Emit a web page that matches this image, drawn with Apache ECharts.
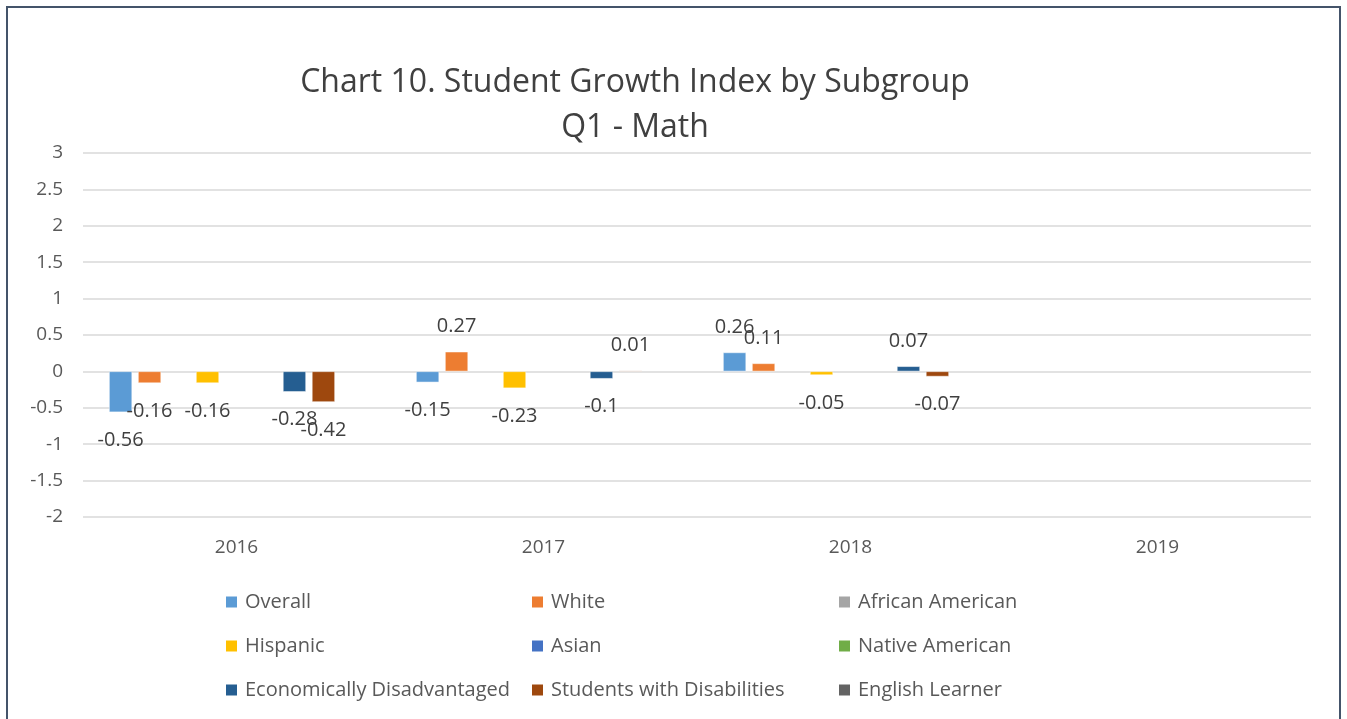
<!DOCTYPE html>
<html>
<head>
<meta charset="utf-8">
<title>Chart 10. Student Growth Index by Subgroup</title>
<script src="https://cdn.jsdelivr.net/npm/echarts@6/dist/echarts.min.js"></script>
<style>
  html, body { margin: 0; padding: 0; background: #fff; overflow: hidden; }
  #chart { position: absolute; left: 0; top: 0; width: 1347px; height: 719px; }
  #frame {
    position: absolute; left: 6px; top: 6px; width: 1331px; height: 740px;
    border: 2px solid #44546a; pointer-events: none;
  }
</style>
</head>
<body>
<div id="chart"></div>
<div id="frame"></div>
<script>
// years on the x axis
const years = ["2016", "2017", "2018", "2019"];

// one array per subgroup, null = no data
const overall = [-0.56, -0.15, 0.26, null];
const white = [-0.16, 0.27, 0.11, null];
const africanAmerican = [null, null, null, null];
const hispanic = [-0.16, -0.23, -0.05, null];
const asian = [null, null, null, null];
const nativeAmerican = [null, null, null, null];
const econDisadv = [-0.28, -0.1, 0.07, null];
const disabilities = [-0.42, 0.01, -0.07, null];
const englishLearner = [null, null, null, null];

const yTicks = [-2, -1.5, -1, -0.5, 0, 0.5, 1, 1.5, 2, 2.5, 3];

const seriesList = [
  { name: "Overall", data: overall, color: "#5b9bd5" },
  { name: "White", data: white, color: "#ed7d31" },
  { name: "African American", data: africanAmerican, color: "#a5a5a5" },
  { name: "Hispanic", data: hispanic, color: "#ffc000" },
  { name: "Asian", data: asian, color: "#4472c4" },
  { name: "Native American", data: nativeAmerican, color: "#70ad47" },
  { name: "Economically Disadvantaged", data: econDisadv, color: "#255e91" },
  { name: "Students with Disabilities", data: disabilities, color: "#9e480e" },
  { name: "English Learner", data: englishLearner, color: "#636363" },
];

const fontFamily = "'Open Sans', 'Noto Sans', sans-serif";
const textColor = "#595959";

const chart = echarts.init(document.getElementById("chart"));

const legendCol = (names, left) => ({
  data: names,
  orient: "vertical",
  left: left,
  top: 587,
  itemWidth: 13,
  itemHeight: 13,
  itemGap: 24,
  icon: "rect",
  textStyle: { fontFamily: fontFamily, fontSize: 20, color: textColor, padding: [0, 0, 0, 2] },
});

const option = {
  animation: false,
  backgroundColor: "#fff",
  title: {
    text: "Chart 10. Student Growth Index by Subgroup\nQ1 - Math",
    left: 630,
    textAlign: "center",
    top: 55,
    textStyle: {
      fontFamily: fontFamily,
      fontSize: 32,
      fontWeight: "normal",
      color: "#404040",
      lineHeight: 45,
    },
  },
  legend: [
    legendCol(["Overall", "Hispanic", "Economically Disadvantaged"], 219),
    legendCol(["White", "Asian", "Students with Disabilities"], 525),
    legendCol(["African American", "Native American", "English Learner"], 832),
  ],
  grid: { left: 83, right: 36, top: 153, bottom: 202, containLabel: false },
  xAxis: {
    type: "category",
    data: years,
    axisLine: { show: false, onZero: false },
    axisTick: { show: false },
    axisLabel: {
      fontFamily: fontFamily,
      fontSize: 19,
      color: textColor,
      margin: 21,
    },
  },
  yAxis: {
    type: "value",
    min: yTicks[0],
    max: yTicks[yTicks.length - 1],
    interval: 0.5,
    axisLine: { show: false },
    axisTick: { show: false },
    axisLabel: {
      fontFamily: fontFamily,
      fontSize: 19,
      color: textColor,
      margin: 20,
    },
    splitLine: { lineStyle: { color: "#d9d9d9", width: 1.5 } },
  },
  series: seriesList.map((s) => ({
    name: s.name,
    type: "bar",
    data: s.data.map((v) => (v === null ? "-" : {
      value: v,
      label: v >= 0
        ? { position: "top", distance: 15 }
        : { position: "bottom", distance: 18 },
    })),
    barWidth: 23,
    barGap: "26%",
    itemStyle: { color: s.color, borderColor: "#fff", borderWidth: 0.5 },
    label: {
      show: true,
      fontFamily: fontFamily,
      fontSize: 20,
      color: "#404040",
    },
  })),
};

chart.setOption(option);
</script>
</body>
</html>
